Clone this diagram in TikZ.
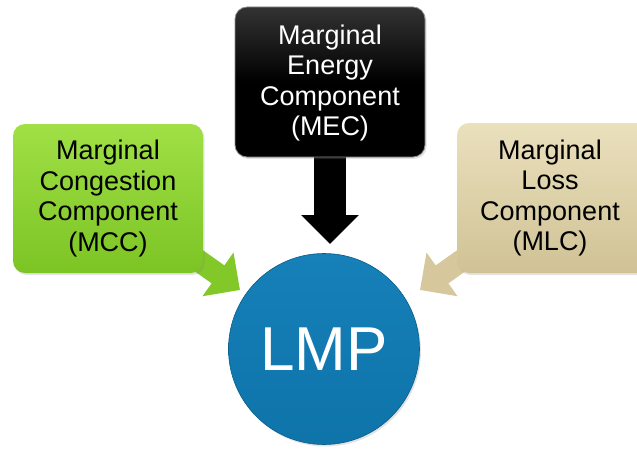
\documentclass[tikz,border=0pt]{standalone}
\usepackage{fontspec}
\setmainfont{Liberation Sans}
\usetikzlibrary{arrows.meta,shadows}

\definecolor{gtop}{RGB}{160,224,70}
\definecolor{gbot}{RGB}{124,196,36}
\definecolor{garrow}{RGB}{130,200,40}
\definecolor{ttop}{RGB}{234,224,188}
\definecolor{tbot}{RGB}{208,194,150}
\definecolor{tarrow}{RGB}{214,200,156}
\definecolor{lmpblue}{RGB}{14,116,170}
\definecolor{lmptop}{RGB}{22,128,184}

\tikzset{
  boxtext/.style={font=\fontsize{27}{30.5}\selectfont, align=center, inner sep=0pt},
  softshadow/.style={drop shadow={opacity=0.22, shadow xshift=1.5pt, shadow yshift=-2pt}},
  blockarrow/.style={line width=#1, line cap=butt},
}

\begin{document}
\begin{tikzpicture}[x=1pt, y=-1pt]
  \useasboundingbox (0,0) rectangle (637,452);

  % anchor points of the three block arrows
  \coordinate (gstart) at (178,246);
  \coordinate (gtip) at (240,290);
  \coordinate (kstart) at (330,140);
  \coordinate (ktip) at (330,244);
  \coordinate (tstart) at (482,246);
  \coordinate (ttip) at (420,290);

  % block arrows (drawn first so the boxes cover their tails)
  \draw[blockarrow=22pt, garrow, -{Triangle[width=52pt,length=27pt]}] (gstart) -- (gtip);
  \draw[blockarrow=32pt, black, -{Triangle[width=56pt,length=29pt]}] (kstart) -- (ktip);
  \draw[blockarrow=22pt, tarrow, -{Triangle[width=52pt,length=27pt]}] (tstart) -- (ttip);

  % component boxes
  \shade[rounded corners=12pt, top color=gtop, bottom color=gbot, softshadow]
    (13,124) rectangle (203,273);
  \node[boxtext, text=black] (mcc) at (108,198.5)
    {Marginal\\Congestion\\Component\\(MCC)};

  \shade[rounded corners=12pt, top color=black!80, bottom color=black, middle color=black, softshadow]
    (235,7) rectangle (425,157);
  \draw[rounded corners=12pt, black!45, line width=0.8pt] (235,7) rectangle (425,157);
  \node[boxtext, text=white] (mec) at (330,83)
    {Marginal\\Energy\\Component\\(MEC)};

  \shade[rounded corners=12pt, top color=ttop, bottom color=tbot, softshadow]
    (457,123) rectangle (650,273);
  \node[boxtext, text=black] (mlc) at (550,198)
    {Marginal\\Loss\\Component\\(MLC)};

  % LMP circle
  \node[circle, minimum size=191pt, inner sep=0pt, top color=lmptop, bottom color=lmpblue,
        draw=lmpblue!80!black, line width=0.6pt, text=white,
        font=\fontsize{62}{66}\selectfont, softshadow] (lmp) at (324,349) {LMP};
\end{tikzpicture}
\end{document}
